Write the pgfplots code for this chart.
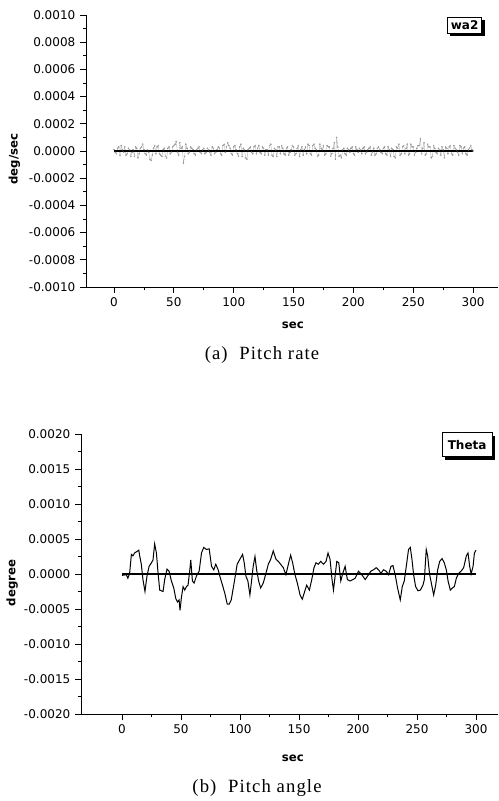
\documentclass[border=0pt]{standalone}
\usepackage{fontspec}
\setmainfont{DejaVu Sans}
\newfontfamily\capfont[LetterSpace=6]{Liberation Serif}
\usepackage{pgfplots}
\pgfplotsset{compat=1.18}
\usetikzlibrary{shadows}

% shared look of both panels (Origin style: left and bottom axes only)
\pgfplotsset{
  originstyle/.style={
    scale only axis,
    anchor=south west,
    axis x line*=bottom,
    axis y line*=left,
    axis line style={-, black, line width=0.6pt},
    tick align=outside,
    tick style={black, line width=0.6pt},
    major tick length=4.5pt,
    minor tick length=2.5pt,
    minor x tick num=1,
    minor y tick num=1,
    xtick={0,50,...,300},
    scaled y ticks=false,
    /pgf/number format/assume math mode=true,
    tick label style={font=\fontsize{9}{10}\selectfont},
    label style={font=\fontsize{8.8}{10}\bfseries},
    clip=false,
  },
}
\tikzset{
  boxlabel/.style={draw=black, line width=0.7pt, fill=white,
    font=\fontsize{9}{10}\bfseries, inner sep=0pt,
    drop shadow={shadow xshift=2.4pt, shadow yshift=-2.4pt, fill=black, opacity=1}},
}

\begin{document}
\begin{tikzpicture}
\useasboundingbox (0,0) rectangle (374.25pt,600.75pt);

% ---------------- (a) pitch rate ----------------
\begin{axis}[originstyle,
  at={(64.5pt,385.5pt)},
  width=309pt, height=204pt,
  xmin=-23.4, xmax=320.8,
  ymin=-0.001, ymax=0.001,
  ytick={-0.001,-0.0008,-0.0006,-0.0004,-0.0002,0,0.0002,0.0004,0.0006,0.0008,0.001},
  yticklabels={-0.0010,-0.0008,-0.0006,-0.0004,-0.0002,0.0000,0.0002,0.0004,0.0006,0.0008,0.0010},
  xlabel={sec}, ylabel={deg/sec},
  xlabel style={at={(axis description cs:0.502,-0.14)}, anchor=center},
  ylabel style={at={(axis description cs:-0.1735,0.47)}, anchor=center},
]
\addplot[black!35, line width=0.25pt, mark=*, mark size=0.42pt,
  mark options={fill=black!85, draw=none}] coordinates {
(0,1e-5) (1,-1e-5) (2,-2e-5) (3,2e-5) (4,3e-5) (5,-3e-5) (6,4e-5) (7,1e-5) (8,-1e-5) (9,3e-5)
(10,-3e-5) (11,-2e-5) (12,2e-5) (13,1e-5) (14,-4e-5) (15,-1e-5) (16,1e-5) (17,-4e-5) (18,3e-5) (19,2e-5)
(20,-5e-5) (21,-2e-5) (22,2e-5) (23,3e-5) (24,5e-5) (25,1e-5) (26,-2e-5) (27,-3e-5) (28,1e-5) (29,-1e-5)
(30,-6e-5) (31,-7e-5) (32,-3e-5) (33,2e-5) (34,4e-5) (35,-2e-5) (36,3e-5) (37,4e-5) (38,-2e-5) (39,-3e-5)
(40,-4e-5) (41,1e-5) (42,2e-5) (43,-4e-5) (44,-5e-5) (45,2e-5) (46,3e-5) (47,-2e-5) (48,-1e-5) (49,3e-5)
(50,4e-5) (51,5e-5) (52,7e-5) (53,-1e-5) (54,-3e-5) (55,6e-5) (56,2e-5) (57,3e-5) (58,-9e-5) (59,-4e-5)
(60,5e-5) (61,2e-5) (62,-2e-5) (63,-1e-5) (64,3e-5) (65,2e-5) (66,1e-5) (67,-2e-5) (68,-3e-5) (69,1e-5)
(70,2e-5) (71,3e-5) (72,-1e-5) (73,-2e-5) (74,1e-5) (75,2e-5) (76,-2e-5) (77,-1e-5) (78,2e-5) (79,1e-5)
(80,-1e-5) (81,-3e-5) (82,3e-5) (83,2e-5) (84,-2e-5) (85,-1e-5) (86,1e-5) (87,3e-5) (88,2e-5) (89,-2e-5)
(90,-3e-5) (91,4e-5) (92,5e-5) (93,-1e-5) (94,3e-5) (95,6e-5) (96,4e-5) (97,2e-5) (98,-2e-5) (99,-3e-5)
(100,3e-5) (101,4e-5) (102,1e-5) (103,-2e-5) (104,-4e-5) (105,3e-5) (106,5e-5) (107,-4e-5) (108,2e-5) (109,1e-5)
(110,-5e-5) (111,-6e-5) (112,1e-5) (113,2e-5) (114,3e-5) (115,-1e-5) (116,-2e-5) (117,3e-5) (118,4e-5) (119,-2e-5)
(120,2e-5) (121,4e-5) (122,-1e-5) (123,-2e-5) (124,3e-5) (125,2e-5) (126,-3e-5) (127,1e-5) (128,1e-5) (129,-3e-5)
(130,4e-5) (131,5e-5) (132,-3e-5) (133,-4e-5) (134,2e-5) (135,1e-5) (136,-4e-5) (137,3e-5) (138,3e-5) (139,-2e-5)
(140,4e-5) (141,2e-5) (142,-2e-5) (143,-3e-5) (144,2e-5) (145,3e-5) (146,-3e-5) (147,-1e-5) (148,1e-5) (149,4e-5)
(150,3e-5) (151,-3e-5) (152,-2e-5) (153,2e-5) (154,4e-5) (155,-4e-5) (156,1e-5) (157,3e-5) (158,-3e-5) (159,1e-5)
(160,3e-5) (161,-2e-5) (162,5e-5) (163,4e-5) (164,-2e-5) (165,-3e-5) (166,4e-5) (167,5e-5) (168,2e-5) (169,1e-5)
(170,-4e-5) (171,-3e-5) (172,5e-5) (173,2e-5) (174,1e-5) (175,4e-5) (176,-3e-5) (177,-2e-5) (178,4e-5) (179,3e-5)
(180,3e-5) (181,-4e-5) (182,-2e-5) (183,2e-5) (184,6e-5) (185,-6e-5) (186,10e-5) (187,3e-5) (188,-4e-5) (189,-3e-5)
(190,-5e-5) (191,1e-5) (192,2e-5) (193,-2e-5) (194,-3e-5) (195,2e-5) (196,1e-5) (197,-1e-5) (198,2e-5) (199,3e-5)
(200,-2e-5) (201,-3e-5) (202,3e-5) (203,1e-5) (204,-1e-5) (205,2e-5) (206,1e-5) (207,-2e-5) (208,2e-5) (209,3e-5)
(210,-2e-5) (211,-1e-5) (212,1e-5) (213,2e-5) (214,3e-5) (215,-3e-5) (216,-1e-5) (217,2e-5) (218,-3e-5) (219,-2e-5)
(220,2e-5) (221,3e-5) (222,1e-5) (223,-1e-5) (224,-2e-5) (225,2e-5) (226,3e-5) (227,-2e-5) (228,-3e-5) (229,3e-5)
(230,1e-5) (231,-4e-5) (232,2e-5) (233,1e-5) (234,-4e-5) (235,-5e-5) (236,3e-5) (237,2e-5) (238,5e-5) (239,-3e-5)
(240,-2e-5) (241,3e-5) (242,4e-5) (243,-2e-5) (244,2e-5) (245,5e-5) (246,-3e-5) (247,-2e-5) (248,5e-5) (249,3e-5)
(250,3e-5) (251,-3e-5) (252,-1e-5) (253,2e-5) (254,4e-5) (255,4e-5) (256,9e-5) (257,-2e-5) (258,2e-5) (259,6e-5)
(260,-3e-5) (261,-2e-5) (262,5e-5) (263,3e-5) (264,3e-5) (265,-5e-5) (266,-4e-5) (267,4e-5) (268,2e-5) (269,-1e-5)
(270,-2e-5) (271,2e-5) (272,1e-5) (273,-3e-5) (274,3e-5) (275,1e-5) (276,-5e-5) (277,3e-5) (278,2e-5) (279,-2e-5)
(280,3e-5) (281,4e-5) (282,-2e-5) (283,-3e-5) (284,4e-5) (285,2e-5) (286,1e-5) (287,-1e-5) (288,-3e-5) (289,4e-5)
(290,3e-5) (291,-2e-5) (292,2e-5) (293,3e-5) (294,-2e-5) (295,-3e-5) (296,1e-5) (297,2e-5) (298,4e-5) (299,1e-5)
(300,0)
};
\addplot[black, line width=1pt] coordinates {(0,0) (300,0)};
\node[boxlabel, minimum width=26pt, minimum height=12pt]
  at (rel axis cs:0.919,0.963) {wa2};
\end{axis}

% ---------------- (b) pitch angle ----------------
\begin{axis}[originstyle,
  at={(60.75pt,65.25pt)},
  width=312.75pt, height=210pt,
  xmin=-34.7, xmax=318.6,
  ymin=-0.002, ymax=0.002,
  ytick={-0.002,-0.0015,-0.001,-0.0005,0,0.0005,0.001,0.0015,0.002},
  yticklabels={-0.0020,-0.0015,-0.0010,-0.0005,0.0000,0.0005,0.0010,0.0015,0.0020},
  xlabel={sec}, ylabel={degree},
  xlabel style={at={(axis description cs:0.508,-0.157)}, anchor=center},
  ylabel style={at={(axis description cs:-0.165,0.468)}, anchor=center},
]
\addplot[black, line width=0.75pt] coordinates {
(0,-0.00002) (3.7,-0.00001) (5,-0.00006) (6.5,0.00001) (8,0.00028) (9.3,0.00026)
(10.7,0.0003) (14.3,0.00034) (15,0.00026) (16.4,0.00014) (17.8,-0.00008) (19.5,-0.00025)
(21.2,-0.00003) (23,0.00011) (25,0.00016) (26.3,0.0002) (27.7,0.00043) (29.2,0.0003)
(30.6,0.00001) (32,-0.00023) (34.8,-0.00025) (36.2,-0.00008) (38.2,0.00007) (39.9,0.00004)
(41.9,-0.0001) (43.9,-0.0002) (45.6,-0.00035) (47,-0.0004) (48.4,-0.00037) (49.2,-0.00052)
(50.4,-0.00033) (51.8,-0.00018) (53.2,-0.00023) (54.6,-0.00018) (56,-0.00016) (57.5,0.00006)
(58.3,0.0002) (59.7,-0.0001) (61.1,-0.00013) (63.1,-0.00003) (65.4,0.00004) (67.4,0.0003)
(69.3,0.00038) (71.6,0.00035) (73.9,0.00036) (75.9,0.00011) (77.8,0.00006) (79.5,0.00014)
(81.5,0.00006) (82.9,-0.00003) (85.2,-0.00016) (87.2,-0.00028) (89.2,-0.00043) (90.9,-0.00043)
(92.6,-0.00037) (94.3,-0.0002) (96,-0.00003) (97.6,0.00014) (99.9,0.00021) (102.2,0.00028)
(103.6,0.00016) (105,-0.00003) (106.7,-0.0001) (108.4,-0.0003) (109.8,-0.0001) (111.2,0.00011)
(112.7,0.00025) (114.1,0.00006) (115.8,-0.0001) (117.5,-0.0002) (119.7,-0.00013) (122,0.00001)
(124,0.00014) (126,0.00021) (128.2,0.00033) (130.5,0.00021) (132.5,0.00018) (134.4,0.00014)
(136.7,0.00009) (138.9,-0.00001) (141,0.00014) (142.9,0.00027) (144.6,0.00016) (146.6,-0.00001)
(148.6,-0.00013) (150.9,-0.0003) (152.8,-0.00036) (154.8,-0.00025) (156.5,-0.00016) (158.8,-0.00023)
(160.8,-0.00008) (162.7,0.00009) (164.4,0.00016) (166.4,0.00014) (168.4,0.00018) (170.7,0.00014)
(172.9,0.00018) (174.6,0.0003) (176.3,0.00021) (178,-0.00008) (179.2,-0.00023) (180.6,-0.00003)
(182,0.00018) (183.7,0.00016) (185.4,-0.0001) (187.1,0.00001) (189.1,0.00011) (191,-0.00008)
(193.3,-0.0001) (195.6,-0.00008) (197.6,-0.00006) (200.4,0.00004) (203.2,-0.00001) (206.1,-0.00008)
(208.9,-0.00001) (210.9,0.00004) (213.1,0.00006) (215.4,0.00009) (217.4,0.00006) (219.4,0.00001)
(221.6,0.00006) (223.9,0.00004) (225.9,-0.00001) (227.9,0.00011) (229.6,0.00012) (231.5,-0.00001)
(233.5,-0.0002) (235.8,-0.00037) (237.5,-0.00018) (239.2,-0.0001) (240.9,0.00011) (242.8,0.00035)
(244.3,0.00038) (245.7,0.00021) (247.1,-0.00001) (248.8,-0.00018) (250.8,-0.00024) (252.8,-0.00023)
(255,-0.00016) (256.2,-0.00008) (257.8,0.00035) (259,0.00026) (260.7,-0.00001) (262.7,-0.00018)
(264.1,-0.0003) (265.8,-0.00016) (267.5,0.00006) (269.2,0.00018) (271.2,0.00022) (273.1,0.00016)
(274.8,0.00006) (276.3,-0.0001) (278.2,-0.00023) (279.9,-0.0002) (281.6,-0.00018) (283.3,-0.00006)
(285.3,0.00001) (287.3,0.00004) (289.5,0.00009) (291.8,0.00026) (293.2,0.0003) (294.6,0.00011)
(295.8,0.0) (297.5,0.00011) (298.6,0.0003) (300,0.00034)
};
\addplot[black, line width=0.8pt] coordinates {(0,0) (300,0)};
\node[boxlabel, minimum width=37.5pt, minimum height=18pt]
  at (rel axis cs:0.926,0.961) {Theta};
\end{axis}

% captions
\node[font=\capfont\fontsize{14}{16}\selectfont] at (196.5pt,334.5pt) {(a)\ \ Pitch rate};
\node[font=\capfont\fontsize{14}{16}\selectfont] at (192.75pt,9.75pt) {(b)\ \ Pitch angle};
\end{tikzpicture}
\end{document}
